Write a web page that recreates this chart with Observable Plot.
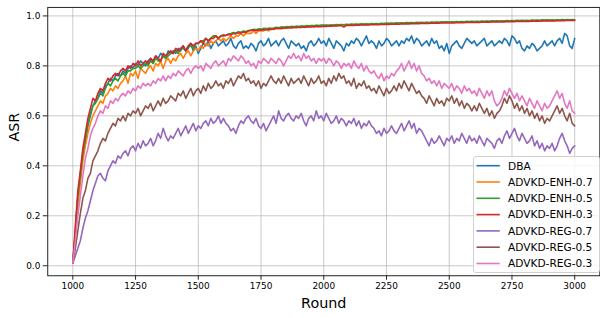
<!DOCTYPE html>
<html>
<head>
<meta charset="utf-8">
<script src="https://cdn.jsdelivr.net/npm/d3@7"></script>
<script src="https://cdn.jsdelivr.net/npm/@observablehq/plot@0.6"></script>
<style>
  html, body { margin: 0; padding: 0; background: #fff; overflow: hidden; width: 600px; height: 318px; }
  #wrap { position: relative; width: 600px; height: 318px; overflow: hidden; }
  #legend { position: absolute; left: 472.5px; top: 156px; width: 127px; height: 117px; }
</style>
</head>
<body>
<div id="wrap"><div id="chart"></div><svg id="legend" width="127" height="117"></svg></div>
<script>
// x: training round (sampled every 10 rounds)
const rounds = d3.range(1000, 3001, 10);
const seriesNames = ["DBA", "ADVKD-ENH-0.7", "ADVKD-ENH-0.5", "ADVKD-ENH-0.3", "ADVKD-REG-0.7", "ADVKD-REG-0.5", "ADVKD-REG-0.3"];
const seriesColors = ["#1f77b4", "#ff7f0e", "#2ca02c", "#d62728", "#9467bd", "#8c564b", "#e377c2"];
const xTicks = [1000, 1250, 1500, 1750, 2000, 2250, 2500, 2750, 3000];
const yTicks = [0.0, 0.2, 0.4, 0.6, 0.8, 1.0];

const dba = [
0.01,0.13,0.27,0.37,0.45,0.49,0.56,0.60,0.64,0.66,
0.67,0.70,0.69,0.72,0.73,0.75,0.74,0.76,0.77,0.76,
0.78,0.77,0.79,0.80,0.79,0.81,0.80,0.82,0.81,0.80,
0.82,0.83,0.81,0.84,0.83,0.85,0.84,0.83,0.86,0.85,
0.86,0.85,0.87,0.86,0.88,0.86,0.87,0.89,0.86,0.88,
0.85,0.87,0.89,0.88,0.90,0.87,0.89,0.90,0.88,0.89,
0.90,0.88,0.89,0.91,0.88,0.87,0.89,0.90,0.87,0.88,
0.87,0.89,0.88,0.86,0.89,0.90,0.88,0.89,0.91,0.88,
0.89,0.90,0.88,0.90,0.91,0.89,0.87,0.90,0.89,0.88,
0.89,0.87,0.88,0.86,0.89,0.90,0.88,0.89,0.91,0.89,
0.90,0.88,0.91,0.89,0.87,0.90,0.89,0.88,0.86,0.89,
0.88,0.90,0.89,0.91,0.90,0.88,0.90,0.92,0.89,0.90,
0.89,0.87,0.90,0.88,0.89,0.91,0.90,0.88,0.89,0.90,
0.88,0.90,0.89,0.91,0.90,0.92,0.89,0.91,0.90,0.88,
0.89,0.90,0.88,0.91,0.89,0.90,0.87,0.88,0.86,0.89,
0.85,0.88,0.89,0.90,0.88,0.87,0.89,0.91,0.90,0.89,
0.90,0.88,0.89,0.90,0.91,0.88,0.89,0.90,0.88,0.89,
0.90,0.89,0.91,0.90,0.88,0.92,0.91,0.89,0.90,0.87,
0.86,0.88,0.87,0.89,0.88,0.86,0.87,0.88,0.90,0.88,
0.89,0.90,0.88,0.90,0.91,0.89,0.93,0.92,0.88,0.87,
0.91];

const enh07 = [
0.01,0.12,0.24,0.33,0.42,0.48,0.53,0.57,0.60,0.62,
0.64,0.66,0.65,0.68,0.69,0.71,0.70,0.72,0.71,0.73,
0.74,0.76,0.73,0.77,0.76,0.78,0.75,0.79,0.78,0.77,
0.79,0.80,0.78,0.81,0.80,0.82,0.79,0.82,0.83,0.81,
0.83,0.82,0.84,0.85,0.83,0.85,0.86,0.84,0.86,0.87,
0.86,0.88,0.87,0.89,0.88,0.90,0.89,0.90,0.91,0.90,
0.91,0.90,0.91,0.92,0.91,0.92,0.92,0.93,0.92,0.93,
0.93,0.93,0.94,0.93,0.94,0.94,0.94,0.95,0.94,0.95,
0.945,0.95,0.948,0.952,0.95,0.954,0.952,0.955,0.953,0.956,
0.955,0.957,0.956,0.958,0.957,0.959,0.957,0.96,0.958,0.96,
0.96,0.961,0.96,0.962,0.961,0.963,0.962,0.964,0.962,0.964,
0.964,0.965,0.964,0.966,0.965,0.967,0.966,0.967,0.966,0.968,
0.967,0.968,0.967,0.969,0.968,0.97,0.969,0.97,0.969,0.971,
0.97,0.971,0.97,0.972,0.971,0.972,0.971,0.973,0.972,0.973,
0.972,0.974,0.973,0.974,0.973,0.975,0.974,0.975,0.974,0.976,
0.975,0.976,0.975,0.976,0.975,0.977,0.976,0.977,0.976,0.978,
0.977,0.978,0.977,0.978,0.977,0.979,0.978,0.979,0.978,0.979,
0.978,0.98,0.979,0.98,0.979,0.98,0.979,0.981,0.98,0.981,
0.98,0.981,0.98,0.982,0.981,0.982,0.981,0.982,0.981,0.983,
0.982,0.983,0.982,0.983,0.982,0.984,0.983,0.984,0.983,0.984,
0.984];

const enh05 = [
0.01,0.14,0.28,0.36,0.45,0.51,0.57,0.61,0.64,0.65,
0.67,0.69,0.68,0.71,0.73,0.72,0.74,0.75,0.74,0.76,
0.77,0.76,0.78,0.78,0.79,0.79,0.80,0.79,0.80,0.81,
0.80,0.82,0.81,0.83,0.82,0.82,0.84,0.83,0.84,0.85,
0.85,0.86,0.85,0.87,0.87,0.86,0.88,0.88,0.87,0.89,
0.89,0.90,0.90,0.91,0.90,0.91,0.92,0.92,0.91,0.92,
0.925,0.923,0.928,0.93,0.934,0.932,0.937,0.935,0.94,0.938,
0.942,0.944,0.946,0.945,0.948,0.947,0.95,0.949,0.951,0.95,
0.952,0.955,0.953,0.956,0.955,0.957,0.956,0.958,0.957,0.959,
0.958,0.96,0.959,0.961,0.96,0.962,0.961,0.963,0.962,0.963,
0.963,0.964,0.963,0.965,0.964,0.966,0.965,0.966,0.965,0.967,
0.966,0.968,0.967,0.968,0.967,0.969,0.968,0.969,0.968,0.97,
0.969,0.97,0.969,0.971,0.97,0.972,0.971,0.972,0.971,0.973,
0.972,0.973,0.972,0.974,0.973,0.974,0.973,0.975,0.974,0.975,
0.974,0.975,0.974,0.976,0.975,0.976,0.975,0.977,0.976,0.977,
0.976,0.977,0.976,0.978,0.977,0.978,0.977,0.979,0.978,0.979,
0.978,0.979,0.978,0.98,0.979,0.98,0.979,0.981,0.98,0.981,
0.98,0.981,0.98,0.982,0.981,0.982,0.981,0.983,0.982,0.983,
0.982,0.983,0.982,0.984,0.983,0.984,0.983,0.985,0.984,0.985,
0.984,0.985,0.984,0.985,0.984,0.986,0.985,0.986,0.985,0.986,
0.985];

const enh03 = [
0.01,0.16,0.30,0.38,0.47,0.53,0.59,0.63,0.67,0.66,
0.69,0.71,0.70,0.73,0.75,0.74,0.76,0.77,0.76,0.78,
0.79,0.78,0.80,0.79,0.81,0.80,0.82,0.80,0.81,0.82,
0.81,0.83,0.82,0.84,0.83,0.82,0.85,0.84,0.85,0.86,
0.85,0.87,0.86,0.87,0.88,0.86,0.88,0.89,0.88,0.89,
0.89,0.90,0.89,0.91,0.90,0.91,0.91,0.92,0.91,0.92,
0.92,0.922,0.926,0.924,0.93,0.928,0.933,0.931,0.936,0.934,
0.94,0.942,0.944,0.941,0.945,0.943,0.946,0.944,0.947,0.946,
0.948,0.95,0.952,0.949,0.953,0.951,0.954,0.952,0.955,0.953,
0.955,0.954,0.956,0.955,0.957,0.956,0.958,0.957,0.958,0.957,
0.959,0.958,0.96,0.959,0.961,0.96,0.962,0.961,0.955,0.962,
0.962,0.963,0.962,0.964,0.963,0.965,0.964,0.965,0.964,0.966,
0.965,0.966,0.965,0.967,0.966,0.967,0.966,0.968,0.967,0.968,
0.967,0.969,0.968,0.969,0.968,0.97,0.969,0.97,0.969,0.971,
0.97,0.971,0.97,0.972,0.971,0.972,0.971,0.973,0.972,0.973,
0.972,0.973,0.972,0.974,0.973,0.974,0.973,0.975,0.974,0.975,
0.974,0.975,0.974,0.976,0.975,0.976,0.975,0.977,0.976,0.977,
0.976,0.977,0.976,0.978,0.977,0.978,0.977,0.979,0.978,0.979,
0.978,0.979,0.978,0.98,0.979,0.98,0.979,0.981,0.98,0.981,
0.98,0.981,0.98,0.982,0.981,0.982,0.981,0.983,0.982,0.983,
0.982];

const reg07 = [
0.01,0.04,0.07,0.10,0.15,0.19,0.22,0.26,0.30,0.33,
0.36,0.37,0.35,0.34,0.38,0.40,0.42,0.41,0.44,0.43,
0.45,0.46,0.44,0.47,0.48,0.46,0.49,0.47,0.50,0.48,
0.49,0.51,0.48,0.50,0.53,0.51,0.55,0.52,0.50,0.52,
0.51,0.53,0.55,0.52,0.54,0.56,0.53,0.55,0.57,0.54,
0.56,0.55,0.57,0.58,0.56,0.59,0.57,0.58,0.60,0.57,
0.59,0.57,0.56,0.54,0.55,0.53,0.56,0.58,0.57,0.59,
0.60,0.58,0.57,0.59,0.56,0.55,0.57,0.54,0.56,0.58,
0.60,0.57,0.62,0.59,0.58,0.60,0.61,0.59,0.58,0.60,
0.59,0.61,0.58,0.56,0.59,0.60,0.58,0.62,0.59,0.60,
0.58,0.61,0.59,0.57,0.58,0.60,0.57,0.59,0.58,0.56,
0.58,0.57,0.59,0.56,0.58,0.55,0.57,0.56,0.58,0.56,
0.55,0.53,0.54,0.52,0.55,0.53,0.54,0.56,0.54,0.53,
0.55,0.57,0.54,0.56,0.58,0.55,0.57,0.53,0.55,0.54,
0.52,0.50,0.48,0.51,0.49,0.50,0.52,0.50,0.48,0.51,
0.50,0.52,0.49,0.51,0.50,0.53,0.51,0.49,0.52,0.50,
0.51,0.49,0.52,0.50,0.48,0.51,0.50,0.49,0.47,0.50,
0.51,0.49,0.52,0.54,0.51,0.53,0.55,0.52,0.50,0.53,
0.51,0.49,0.50,0.52,0.48,0.50,0.47,0.49,0.46,0.48,
0.47,0.49,0.46,0.48,0.51,0.53,0.50,0.48,0.45,0.47,
0.48];

const reg05 = [
0.01,0.07,0.14,0.21,0.27,0.30,0.35,0.37,0.42,0.44,
0.46,0.49,0.51,0.50,0.53,0.55,0.57,0.56,0.59,0.58,
0.60,0.58,0.61,0.60,0.62,0.61,0.63,0.60,0.62,0.64,
0.63,0.65,0.62,0.64,0.66,0.64,0.67,0.65,0.66,0.68,
0.67,0.66,0.69,0.68,0.70,0.67,0.69,0.71,0.68,0.70,
0.71,0.69,0.72,0.70,0.73,0.71,0.72,0.74,0.72,0.73,
0.71,0.74,0.73,0.75,0.72,0.74,0.76,0.75,0.77,0.74,
0.75,0.73,0.74,0.72,0.74,0.71,0.73,0.72,0.74,0.76,
0.74,0.73,0.75,0.73,0.76,0.74,0.72,0.75,0.73,0.74,
0.75,0.73,0.76,0.74,0.72,0.75,0.73,0.74,0.76,0.73,
0.74,0.72,0.75,0.73,0.76,0.74,0.77,0.75,0.76,0.73,
0.74,0.72,0.75,0.71,0.73,0.72,0.74,0.71,0.72,0.70,
0.71,0.69,0.72,0.70,0.68,0.71,0.69,0.70,0.72,0.70,
0.73,0.71,0.74,0.72,0.70,0.73,0.71,0.69,0.70,0.68,
0.67,0.65,0.68,0.66,0.64,0.67,0.65,0.66,0.64,0.67,
0.66,0.68,0.65,0.67,0.64,0.66,0.63,0.65,0.64,0.62,
0.64,0.62,0.65,0.63,0.61,0.63,0.60,0.62,0.59,0.61,
0.62,0.64,0.67,0.65,0.68,0.66,0.63,0.65,0.62,0.64,
0.61,0.63,0.60,0.62,0.59,0.61,0.58,0.60,0.57,0.59,
0.58,0.60,0.62,0.64,0.61,0.63,0.60,0.58,0.61,0.57,
0.56];

const reg03 = [
0.01,0.10,0.20,0.28,0.36,0.43,0.47,0.52,0.55,0.57,
0.60,0.62,0.61,0.64,0.63,0.66,0.65,0.67,0.66,0.68,
0.69,0.68,0.70,0.69,0.71,0.70,0.72,0.71,0.73,0.72,
0.73,0.72,0.74,0.73,0.75,0.74,0.76,0.74,0.76,0.75,
0.77,0.76,0.78,0.77,0.76,0.78,0.79,0.77,0.79,0.80,
0.79,0.80,0.78,0.81,0.80,0.79,0.81,0.82,0.80,0.81,
0.82,0.80,0.83,0.82,0.84,0.83,0.82,0.84,0.83,0.81,
0.82,0.80,0.81,0.79,0.82,0.81,0.83,0.82,0.81,0.83,
0.82,0.81,0.83,0.82,0.80,0.82,0.84,0.83,0.85,0.83,
0.84,0.82,0.85,0.83,0.84,0.82,0.83,0.81,0.83,0.82,
0.83,0.81,0.83,0.82,0.80,0.82,0.81,0.79,0.81,0.80,
0.81,0.79,0.82,0.80,0.79,0.81,0.78,0.80,0.78,0.77,
0.78,0.76,0.75,0.77,0.74,0.76,0.75,0.77,0.76,0.78,
0.79,0.81,0.78,0.80,0.82,0.79,0.81,0.78,0.80,0.77,
0.76,0.74,0.75,0.73,0.74,0.72,0.74,0.71,0.73,0.72,
0.71,0.73,0.70,0.72,0.71,0.69,0.72,0.70,0.71,0.69,
0.70,0.68,0.71,0.69,0.67,0.70,0.68,0.70,0.66,0.64,
0.65,0.67,0.70,0.68,0.71,0.69,0.67,0.69,0.66,0.68,
0.66,0.64,0.67,0.65,0.63,0.66,0.64,0.62,0.65,0.63,
0.64,0.66,0.68,0.70,0.67,0.69,0.65,0.63,0.66,0.62,
0.61];

const seriesValues = [dba, enh07, enh05, enh03, reg07, reg05, reg03];

const rows = seriesNames.flatMap((name, k) =>
  seriesValues[k].map((v, i) => ({round: rounds[i], asr: v, name})));

const chart = Plot.plot({
  width: 606,
  height: 318,
  marginLeft: 47.7,
  marginRight: 0.7,
  marginTop: 7,
  marginBottom: 40,
  style: {fontFamily: "DejaVu Sans, sans-serif", fontSize: "9px", color: "#000", background: "transparent", overflow: "visible"},
  x: {domain: [900, 3100]},
  y: {domain: [-0.04, 1.034]},
  color: {domain: seriesNames, range: seriesColors},
  marks: [
    Plot.gridX(xTicks, {stroke: "#b0b0b0", strokeOpacity: 0.75, strokeWidth: 0.9}),
    Plot.gridY(yTicks, {stroke: "#b0b0b0", strokeOpacity: 0.75, strokeWidth: 0.9}),
    Plot.lineY(rows, {x: "round", y: "asr", z: "name", stroke: "name", strokeWidth: 1.6, strokeLinejoin: "round"}),
    Plot.frame({stroke: "#222", strokeWidth: 1}),
    Plot.axisX(xTicks, {tickSize: 4.5, tickPadding: 3, tickFormat: d => String(d), label: null, stroke: "#222"}),
    Plot.axisY(yTicks, {tickSize: 4.5, tickPadding: 3, tickFormat: d => d.toFixed(1), label: null, stroke: "#222"}),
    Plot.text(["Round"], {frameAnchor: "bottom", text: d => d, dy: 28, lineAnchor: "middle", fontSize: 14.5}),
    Plot.text(["ASR"], {frameAnchor: "left", text: d => d, dx: -34, rotate: -90, lineAnchor: "middle", fontSize: 14.5})
  ]
});
document.getElementById("chart").appendChild(chart);

// legend (matplotlib-style box, lower right)
const lg = d3.select("#legend");
lg.append("rect").attr("x", 0.5).attr("y", 0.5).attr("width", 126).attr("height", 116)
  .attr("rx", 2.5).attr("fill", "#fff").attr("fill-opacity", 0.8).attr("stroke", "#d0d0d0");
seriesNames.forEach((name, i) => {
  const cy = 9.7 + i * 16.3;
  lg.append("line").attr("x1", 3.5).attr("x2", 26.8).attr("y1", cy).attr("y2", cy)
    .attr("stroke", seriesColors[i]).attr("stroke-width", 1.6);
  lg.append("text").attr("x", 35).attr("y", cy).attr("dy", "0.36em")
    .attr("font-family", "DejaVu Sans, sans-serif").attr("font-size", 10.6).text(name);
});
</script>
</body>
</html>
